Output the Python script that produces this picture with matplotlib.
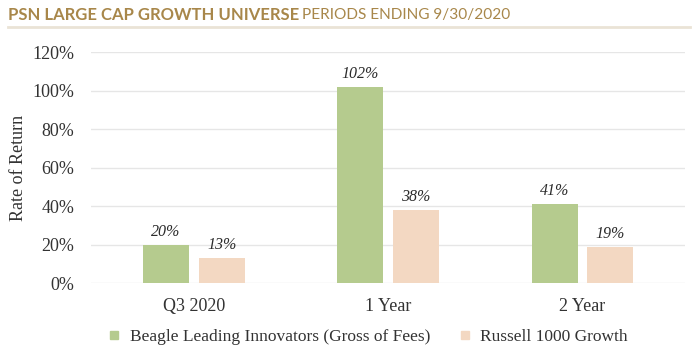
import matplotlib.pyplot as plt
import numpy as np
from matplotlib.ticker import PercentFormatter
from matplotlib.lines import Line2D

periods = ["Q3 2020", "1 Year", "2 Year"]
beagle = [20, 102, 41]
russell = [13, 38, 19]
series_names = ["Beagle Leading Innovators (Gross of Fees)", "Russell 1000 Growth"]

green = "#B5CB8E"
peach = "#F3D8C2"
gold = "#A8874A"
serif = ["Liberation Serif", "DejaVu Serif"]


def main():
    fig = plt.figure(figsize=(7, 3.5), dpi=100)
    ax = fig.add_axes([0.13, 0.191, 0.849, 0.66])

    x = np.arange(len(periods))
    w = 0.237
    off = 0.143
    b1 = ax.bar(x - off, beagle, w, color=green)
    b2 = ax.bar(x + off, russell, w, color=peach)

    for bars, vals in ((b1, beagle), (b2, russell)):
        for b, v in zip(bars, vals):
            ax.text(b.get_x() + b.get_width() / 2, v + 2.5, f"{v}%",
                    ha="center", va="bottom", fontsize=11.5, style="italic",
                    family=serif, color="#2b2b2b")

    ax.set_ylim(0, 120)
    ax.set_yticks(range(0, 121, 20))
    ax.yaxis.set_major_formatter(PercentFormatter(decimals=0))
    ax.set_xlim(-0.53, 2.53)
    ax.set_xticks(x)
    ax.set_xticklabels(periods)
    ax.grid(axis="y", color="#E6E6E6", linewidth=1)
    ax.set_axisbelow(True)
    for s in ax.spines.values():
        s.set_visible(False)
    ax.tick_params(length=0, labelsize=13, labelcolor="#333333")
    ax.tick_params(axis="x", pad=11)
    ax.tick_params(axis="y", pad=12)
    for lab in ax.get_xticklabels() + ax.get_yticklabels():
        lab.set_family(serif)
    ax.set_ylabel("Rate of Return", fontsize=13, family=serif, color="#333333", labelpad=4)

    handles = [Line2D([], [], marker="s", linestyle="", markersize=6, color=green),
               Line2D([], [], marker="s", linestyle="", markersize=6, color=peach)]
    fig.legend(handles, series_names, loc="center", bbox_to_anchor=(0.525, 0.037),
               ncol=2, frameon=False, handlelength=0.8, handletextpad=0.5,
               columnspacing=1.6, prop={"family": serif, "size": 12.5},
               labelcolor="#333333")

    fig.text(0.012, 0.958, "PSN LARGE CAP GROWTH UNIVERSE", fontsize=12,
             fontweight="bold", color=gold, family="Lato", va="center")
    fig.text(0.431, 0.958, "PERIODS ENDING 9/30/2020", fontsize=11.1,
             color=gold, family="Lato", va="center")
    fig.add_artist(Line2D([0.012, 0.986], [0.923, 0.923], color="#EAE3D6", linewidth=2))

    plt.savefig("out.png")


if __name__ == "__main__":
    main()
